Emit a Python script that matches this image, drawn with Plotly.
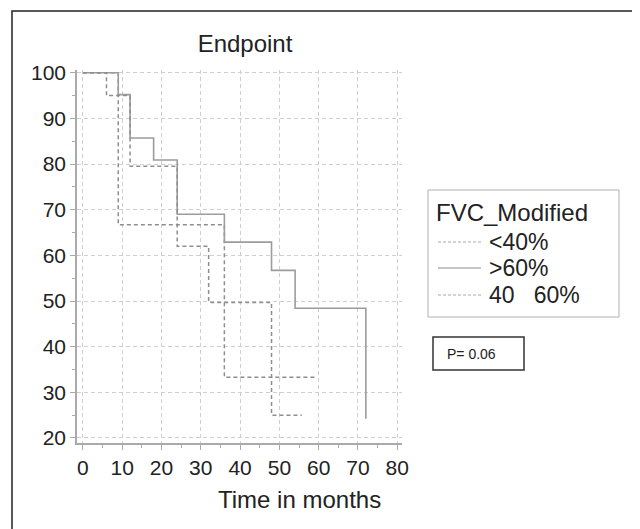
import plotly.graph_objects as go

# Kaplan-Meier step data (time in months, survival %)
t_gt60 = [0, 9, 12, 18, 24, 36, 48, 54, 72]
s_gt60 = [100, 95.2, 85.7, 80.9, 69.0, 62.9, 56.7, 48.4, 24.2]

t_lt40 = [0, 9, 36, 59.5]
s_lt40 = [100, 66.7, 33.3, 33.3]

t_40_60 = [0, 6, 12, 24, 32, 48, 55.7]
s_40_60 = [100, 95.0, 79.5, 62.0, 49.7, 25.0, 25.0]

x_ticks = [0, 10, 20, 30, 40, 50, 60, 70, 80]
y_ticks = [20, 30, 40, 50, 60, 70, 80, 90, 100]

legend_title = "FVC_Modified"
series_names = ["&lt;40%", "&gt;60%", "40   60%"]

FONT = "Liberation Sans, Arial, sans-serif"
DASH = "4px,3px"
C_DASH = "#8e8e8e"
C_SOLID = "#9c9c9c"

fig = go.Figure()
fig.add_trace(go.Scatter(x=t_lt40, y=s_lt40, mode="lines", line_shape="hv",
                         name=series_names[0], line=dict(color=C_DASH, width=1.5, dash=DASH)))
fig.add_trace(go.Scatter(x=t_gt60, y=s_gt60, mode="lines", line_shape="hv",
                         name=series_names[1], line=dict(color=C_SOLID, width=1.6)))
fig.add_trace(go.Scatter(x=t_40_60, y=s_40_60, mode="lines", line_shape="hv",
                         name=series_names[2], line=dict(color=C_DASH, width=1.5, dash=DASH)))

OFF = 8  # page body margin
W, H = 640, 529
L, R, T, B = 77 - OFF, W - (402 - OFF), 70 - OFF, H - (443 - OFF)
pw, ph = W - L - R, H - T - B


def px(xp):
    return (xp - OFF - L) / pw


def py(yp):
    return (H - B - (yp - OFF)) / ph


fig.update_layout(
    width=W, height=H,
    margin=dict(l=L, r=R, t=T, b=B),
    paper_bgcolor="white", plot_bgcolor="white",
    font=dict(family=FONT, color="#222222", size=21),
    title=dict(text="Endpoint", x=(245 - OFF) / W, xanchor="center",
               y=1 - (44 - OFF) / H, yanchor="middle", font=dict(size=24, color="#222222")),
    showlegend=False,
)

axis_common = dict(
    showline=True, linecolor="#aaaaaa", linewidth=1.5,
    ticks="outside", ticklen=5, tickcolor="#aaaaaa",
    minor=dict(dtick=5, tick0=0, ticks="outside", ticklen=3, tickcolor="#aaaaaa", showgrid=False),
    showgrid=True, gridcolor="#cfcfcf", griddash="4px,3px", gridwidth=1,
    zeroline=False, tickfont=dict(size=21, color="#222222"),
)
fig.update_xaxes(range=[-1.5, 81.2], tickvals=x_ticks,
                 ticktext=[str(v) for v in x_ticks], **axis_common)
fig.update_yaxes(range=[18.9, 100.6], tickvals=y_ticks,
                 ticktext=[str(v) for v in y_ticks], **axis_common)

# x-axis title
fig.add_annotation(text="Time in months", xref="paper", yref="paper",
                   x=px(299), y=py(500), xanchor="center", yanchor="middle",
                   showarrow=False, font=dict(size=24, color="#222222"))

# legend box (drawn)
fig.add_shape(type="rect", xref="paper", yref="paper",
              x0=px(428), x1=px(619), y0=py(190), y1=py(317),
              line=dict(color="#b0b0b0", width=1), fillcolor="white", layer="below")
fig.add_annotation(text=legend_title, xref="paper", yref="paper",
                   x=px(434), y=py(212), xanchor="left", yanchor="middle",
                   showarrow=False, font=dict(size=24, color="#222222"))
legend_rows = [242, 268, 295]
legend_styles = [dict(color="#a8a8a8", width=1, dash="3px,2px"),
                 dict(color="#909090", width=1.2),
                 dict(color="#a8a8a8", width=1, dash="3px,2px")]
for name, row, st in zip(series_names, legend_rows, legend_styles):
    fig.add_shape(type="line", xref="paper", yref="paper",
                  x0=px(438), x1=px(481), y0=py(row), y1=py(row), line=st)
    fig.add_annotation(text=name, xref="paper", yref="paper",
                       x=px(487), y=py(row), xanchor="left", yanchor="middle",
                       showarrow=False, font=dict(size=23, color="#222222"))

# P-value box
fig.add_shape(type="rect", xref="paper", yref="paper",
              x0=px(433), x1=px(524), y0=py(337), y1=py(370),
              line=dict(color="#333333", width=1.5), fillcolor="white")
fig.add_annotation(text="P= 0.06", xref="paper", yref="paper",
                   x=px(445), y=py(353.5), xanchor="left", yanchor="middle",
                   showarrow=False, font=dict(size=14, color="#222222"))

# outer frame
fig.add_shape(type="rect", xref="paper", yref="paper",
              x0=px(12), x1=px(660), y0=py(11), y1=py(560),
              line=dict(color="#222222", width=1.5), layer="below")

fig.write_html("out.html")
